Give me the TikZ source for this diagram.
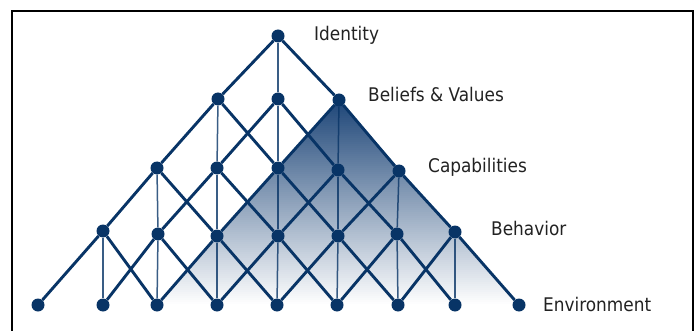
\documentclass[tikz,border=0pt]{standalone}
\usepackage{fontspec}
\setmainfont{DejaVu Sans Condensed}
\pgfdeclarelayer{bg}
\pgfsetlayers{bg,main}
\definecolor{navy}{RGB}{8,52,102}
\definecolor{shadetop}{RGB}{30,70,120}
\definecolor{labeltext}{RGB}{34,34,34}
\tikzset{
  dot/.style={circle, fill=navy, inner sep=0pt, minimum size=13pt},
  diag/.style={draw=navy, line width=2.9pt},
  vert/.style={draw=navy, line width=1.5pt, draw opacity=0.8},
  level/.style={anchor=base west, text=labeltext, font=\fontsize{18.8}{22}\selectfont, inner sep=0pt},
  frameline/.style={draw=black, line width=1.8pt}
}
\begin{document}
\begin{tikzpicture}[x=1pt, y=-1pt]
\useasboundingbox (0,0) rectangle (695,331);

% frame (open at the bottom)
\path[frameline] (12,340) -- (12,11) -- (693,11) -- (693,340);

% lattice points, row by row
\node[dot] (n-0-0) at (278,36) {};

\node[dot] (n-1-0) at (218,99) {};
\node[dot] (n-1-1) at (278,99) {};
\node[dot] (n-1-2) at (339,100) {};

\node[dot] (n-2-0) at (157,168) {};
\node[dot] (n-2-1) at (217,168) {};
\node[dot] (n-2-2) at (278,168) {};
\node[dot] (n-2-3) at (338,170) {};
\node[dot] (n-2-4) at (399,171) {};

\node[dot] (n-3-0) at (103,231) {};
\node[dot] (n-3-1) at (158,234) {};
\node[dot] (n-3-2) at (217,236) {};
\node[dot] (n-3-3) at (278,236) {};
\node[dot] (n-3-4) at (338,236) {};
\node[dot] (n-3-5) at (397,234) {};
\node[dot] (n-3-6) at (455,232) {};

\node[dot] (n-4-0) at (38,305) {};
\node[dot] (n-4-1) at (103,305) {};
\node[dot] (n-4-2) at (157,305) {};
\node[dot] (n-4-3) at (217,305) {};
\node[dot] (n-4-4) at (277,305) {};
\node[dot] (n-4-5) at (337,305) {};
\node[dot] (n-4-6) at (398,305) {};
\node[dot] (n-4-7) at (455,305) {};
\node[dot] (n-4-8) at (519,305) {};

% shaded wedge below the right-hand node of the second row
\begin{pgfonlayer}{bg}
  \begin{scope}
    \clip (n-1-2.center) -- (n-4-8.center) -- (n-4-2.center) -- cycle;
    \foreach \i in {0,...,102} {
      \pgfmathsetmacro{\p}{100*(1-\i/102)}
      \fill[shadetop!\p!white] (150,{100+2*\i}) rectangle (530,{100+2*\i+2.4});
    }
  \end{scope}
\end{pgfonlayer}

% connectors: each point joins three points of the row below
\foreach \r/\n in {0/0,1/2,2/4,3/6} {
  \pgfmathtruncatemacro{\rr}{\r+1}
  \foreach \c in {0,...,\n} {
    \pgfmathtruncatemacro{\cl}{\c}
    \pgfmathtruncatemacro{\cm}{\c+1}
    \pgfmathtruncatemacro{\cr}{\c+2}
    \path[vert] (n-\r-\c) -- (n-\rr-\cm);
    \path[diag] (n-\r-\c) -- (n-\rr-\cl);
    \path[diag] (n-\r-\c) -- (n-\rr-\cr);
  }
}

% level names
\node[level] (t-identity) at (314,41) {Identity};
\node[level] (t-beliefs) at (368,102) {Beliefs \& Values};
\node[level] (t-capabilities) at (428,172) {Capabilities};
\node[level] (t-behavior) at (491,235) {Behavior};
\node[level] (t-environment) at (543,311) {Environment};
\end{tikzpicture}
\end{document}
